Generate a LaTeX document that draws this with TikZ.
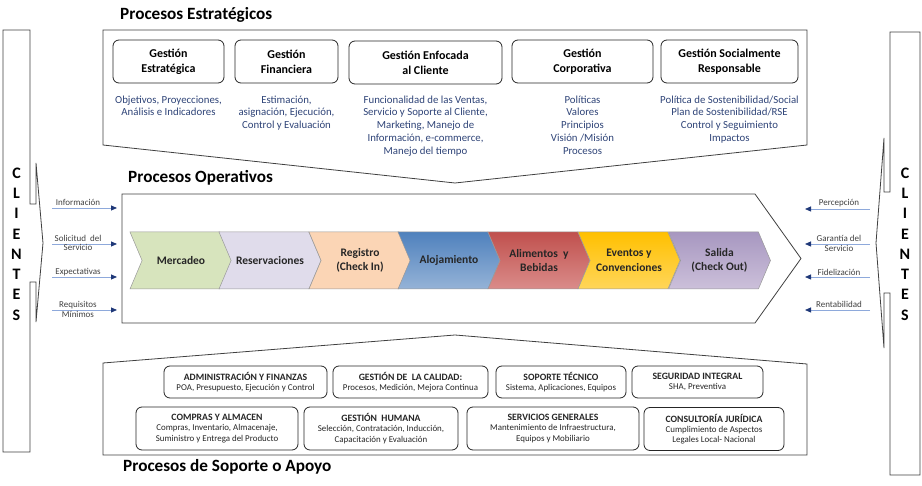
\documentclass[tikz,border=0pt]{standalone}
\usepackage{fontspec}
\setmainfont{Carlito}
\usetikzlibrary{positioning,arrows.meta,shapes.symbols}
\definecolor{outline}{RGB}{64,64,64}
\definecolor{descblue}{RGB}{47,68,120}
\definecolor{flowline}{RGB}{142,169,219}
\definecolor{flowhead}{RGB}{31,56,120}
\definecolor{stepgreen}{RGB}{215,228,189}
\definecolor{steplilac}{RGB}{224,220,235}
\definecolor{steppeach}{RGB}{251,213,181}
\definecolor{stepblueA}{RGB}{79,129,189}
\definecolor{stepblueB}{RGB}{149,179,215}
\definecolor{stepredA}{RGB}{192,80,77}
\definecolor{stepredB}{RGB}{218,140,138}
\definecolor{stepgoldA}{RGB}{255,192,0}
\definecolor{stepgoldB}{RGB}{255,214,90}
\definecolor{stepplumA}{RGB}{167,151,192}
\definecolor{stepplumB}{RGB}{204,192,218}

\begin{document}
\begin{tikzpicture}[x=1pt,y=-1pt,
  areaframe/.style={draw=outline,line width=0.8pt,fill=white},
  areatitle/.style={font=\fontsize{17.2}{20}\selectfont\bfseries,anchor=west,inner sep=0pt},
  stratbox/.style={draw=black!85,line width=0.8pt,rounded corners=6pt,minimum height=43pt,align=center,font=\fontsize{12}{15}\selectfont\bfseries,inner sep=1pt},
  stratnote/.style={text=descblue,align=center,font=\fontsize{10.8}{12.8}\selectfont,inner sep=0pt},
  chevron/.style={signal,signal to=east,signal from=west,signal pointer angle=134,draw=gray!80,line width=0.5pt,minimum width=102pt,minimum height=57pt,inner sep=0pt,align=center,text=black!85,font=\fontsize{11.5}{14.5}\selectfont\bfseries},
  supbox/.style={draw=black!85,line width=0.8pt,rounded corners=6pt,align=center,inner sep=1pt,text=black!85,font=\fontsize{8.9}{10.2}\selectfont},
  clientbar/.style={draw=outline,line width=0.8pt,fill=white},
  clientword/.style={align=center,inner sep=0pt,font=\fontsize{16}{20.3}\selectfont\bfseries},
  flowarrow/.style={draw=flowline,line width=0.8pt,-{Triangle[length=6pt,width=5pt,color=flowhead]}},
  flowlabel/.style={align=center,inner sep=0pt,text=black!75,font=\fontsize{9}{9.8}\selectfont}]

\useasboundingbox (0,0) rectangle (922,486);

% clientes, both sides
\draw[clientbar] (30,282)--(30,452)--(3,452)--(3,30)--(30,30)--(30,204)--(36,204)--(36,163)--(43,243)--(36,322)--(36,282)--cycle;
\draw[clientbar] (890,192)--(890,32)--(920,32)--(920,475)--(890,475)--(890,293)--(884,293)--(884,348)--(876,243)--(884,138)--(884,192)--cycle;
\node[clientword] (cliLeft) at (16.5,244) {C\\L\\I\\E\\N\\T\\E\\S};
\node[clientword] (cliRight) at (905,244) {C\\L\\I\\E\\N\\T\\E\\S};

% estrategicos
\draw[areaframe] (103,30)--(807,30)--(807,145)--(455,183)--(103,145)--cycle;
\node[areatitle] (titStrat) at (120,15) {Procesos Estratégicos};
\node[stratbox,minimum width=111pt] (gEst) at (168.5,61.5) {Gestión\\Estratégica};
\node[stratbox,minimum width=103pt] (gFin) at (286.5,61.5) {Gestión\\Financiera};
\node[stratbox,minimum width=153pt] (gCli) at (425.5,62.5) {Gestión Enfocada\\al Cliente};
\node[stratbox,minimum width=141pt] (gCor) at (582.5,61.5) {Gestión\\Corporativa};
\node[stratbox,minimum width=137pt] (gSoc) at (729.5,61.5) {Gestión Socialmente\\Responsable};
\node[stratnote,below=12pt of gEst] (nEst) {Objetivos, Proyecciones,\\Análisis e Indicadores};
\node[stratnote,below=12pt of gFin] (nFin) {Estimación,\\asignación, Ejecución,\\Control y Evaluación};
\node[stratnote,below=11pt of gCli] (nCli) {Funcionalidad de las Ventas,\\Servicio y Soporte al Cliente,\\Marketing, Manejo de\\Información, e-commerce,\\Manejo del tiempo};
\node[stratnote,below=12pt of gCor] (nCor) {Políticas\\Valores\\Principios\\Visión /Misión\\Procesos};
\node[stratnote,below=12pt of gSoc] (nSoc) {Política de Sostenibilidad/Social\\Plan de Sostenibilidad/RSE\\Control y Seguimiento\\Impactos};

% operativos
\node[areatitle] (titOper) at (128,178) {Procesos Operativos};
\draw[areaframe] (122,194)--(755,194)--(801,258.5)--(755,323)--(122,323)--cycle;
\node[chevron,fill=stepgreen] (sMer) at (181,260.5) {Mercadeo};
\node[chevron,fill=steplilac] (sRes) at (270,260.5) {Reservaciones};
\node[chevron,fill=steppeach] (sReg) at (360,260.5) {Registro\\(Check In)};
\node[chevron,top color=stepblueA,bottom color=stepblueB] (sAlo) at (449,260.5) {Alojamiento};
\node[chevron,top color=stepredA,bottom color=stepredB] (sAli) at (539,260.5) {Alimentos\ \ y\\Bebidas};
\node[chevron,top color=stepgoldA,bottom color=stepgoldB] (sEve) at (629,260.5) {Eventos y\\Convenciones};
\node[chevron,top color=stepplumA,bottom color=stepplumB] (sSal) at (719.5,260.5) {Salida\\(Check Out)};

% entradas y salidas
\coordinate (inA0) at (52,208);  \coordinate (inA1) at (117,208);
\coordinate (inB0) at (52,244);  \coordinate (inB1) at (117,244);
\coordinate (inC0) at (52,277);  \coordinate (inC1) at (117,277);
\coordinate (inD0) at (52,310);  \coordinate (inD1) at (117,310);
\draw[flowarrow] (inA0) -- (inA1);
\draw[flowarrow] (inB0) -- (inB1);
\draw[flowarrow] (inC0) -- (inC1);
\draw[flowarrow] (inD0) -- (inD1);
\node[flowlabel] (lInfo) at (78,202.5) {Información};
\node[flowlabel] (lSoli) at (78,243) {Solicitud\ \ del\\Servicio};
\node[flowlabel] (lExpe) at (78,272) {Expectativas};
\node[flowlabel] (lRequ) at (78,309.5) {Requisitos\\Mínimos};

\coordinate (outA0) at (870,209); \coordinate (outA1) at (805,209);
\coordinate (outB0) at (870,244); \coordinate (outB1) at (805,244);
\coordinate (outC0) at (870,277); \coordinate (outC1) at (805,277);
\coordinate (outD0) at (870,310); \coordinate (outD1) at (805,310);
\draw[flowarrow] (outA0) -- (outA1);
\draw[flowarrow] (outB0) -- (outB1);
\draw[flowarrow] (outC0) -- (outC1);
\draw[flowarrow] (outD0) -- (outD1);
\node[flowlabel] (lPerc) at (839,203) {Percepción};
\node[flowlabel] (lGara) at (839,243.5) {Garantía del\\Servicio};
\node[flowlabel] (lFide) at (839,272) {Fidelización};
\node[flowlabel] (lRent) at (839,304) {Rentabilidad};

% soporte
\draw[areaframe] (103,363)--(455,335)--(807,364)--(807,455)--(103,455)--cycle;
\node[areatitle] (titSup) at (123,467) {Procesos de Soporte o Apoyo};
\node[supbox,minimum width=163pt,minimum height=32pt] (pAdm) at (245.5,382) {{\bfseries\fontsize{9.7}{10.4}\selectfont ADMINISTRACIÓN Y FINANZAS}\\POA, Presupuesto, Ejecución y Control};
\node[supbox,minimum width=155pt,minimum height=32pt] (pCal) at (410.5,382) {{\bfseries\fontsize{9.7}{10.4}\selectfont GESTIÓN DE\ \ LA CALIDAD:}\\Procesos, Medición, Mejora Continua};
\node[supbox,minimum width=130pt,minimum height=32pt] (pSop) at (561,382) {{\bfseries\fontsize{9.7}{10.4}\selectfont SOPORTE TÉCNICO}\\Sistema, Aplicaciones, Equipos};
\node[supbox,minimum width=131pt,minimum height=32pt] (pSeg) at (697.5,382) {{\bfseries\fontsize{9.7}{10.4}\selectfont SEGURIDAD INTEGRAL}\\SHA, Preventiva};
\node[supbox,minimum width=162pt,minimum height=43pt] (pCom) at (217,428.5) {{\bfseries\fontsize{9.7}{10.4}\selectfont COMPRAS Y ALMACEN}\\Compras, Inventario, Almacenaje,\\Suministro y Entrega del Producto};
\node[supbox,minimum width=154pt,minimum height=43pt] (pHum) at (381,428.5) {{\bfseries\fontsize{9.7}{10.4}\selectfont GESTIÓN\ \ HUMANA}\\Selección, Contratación, Inducción,\\Capacitación y Evaluación};
\node[supbox,minimum width=172pt,minimum height=43pt] (pSer) at (553,428.5) {{\bfseries\fontsize{9.7}{10.4}\selectfont SERVICIOS GENERALES}\\Mantenimiento de Infraestructura,\\Equipos y Mobiliario};
\node[supbox,minimum width=140pt,minimum height=43pt] (pJur) at (714,429) {{\bfseries\fontsize{9.7}{10.4}\selectfont CONSULTORÍA JURÍDICA}\\Cumplimiento de Aspectos\\Legales Local- Nacional};
\end{tikzpicture}
\end{document}
